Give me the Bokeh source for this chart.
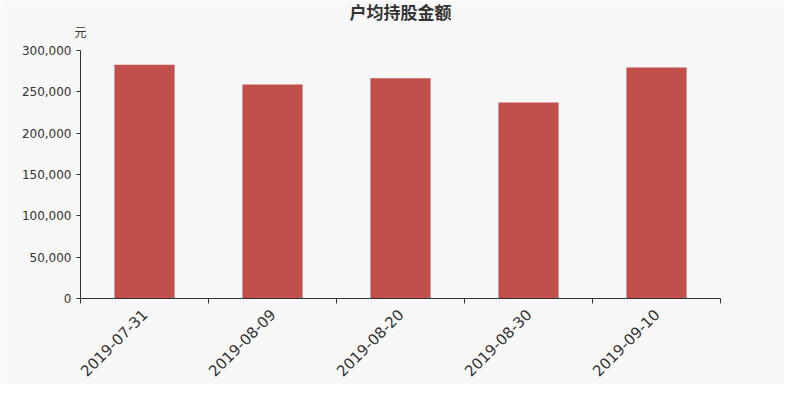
import math
from bokeh.plotting import figure
from bokeh.models import Range1d, FixedTicker, NumeralTickFormatter, LinearAxis, ColumnDataSource
from bokeh.embed import file_html
from bokeh.resources import INLINE

title_text = "户均持股金额"
unit_text = "元"
dates = ["2019-07-31", "2019-08-09", "2019-08-20", "2019-08-30", "2019-09-10"]
values = [282800, 259000, 266300, 237200, 279300]
y_ticks = [0, 50000, 100000, 150000, 200000, 250000, 300000]

BG = "#f8f8f8"
TXT = "#333333"
BAR = "#c1504d"
CJK = "DejaVu Sans, Noto Sans CJK SC"

centers = [i + 0.5 for i in range(len(dates))]
bounds = [float(i) for i in range(len(dates) + 1)]
src = ColumnDataSource(dict(x=centers, top=values, date=dates))

p = figure(width=784, height=384, output_backend="svg", toolbar_location=None,
           x_range=Range1d(0, len(dates)), y_range=Range1d(0, y_ticks[-1]),
           min_border_left=80, min_border_right=64, min_border_top=50, min_border_bottom=84)
p.background_fill_color = BG
p.border_fill_color = BG
p.outline_line_color = None
p.grid.visible = False

p.title.text = title_text
p.title.align = "center"
p.title.text_font = CJK
p.title.text_font_size = "17px"
p.title.text_font_style = "bold"
p.title.text_color = TXT
p.title.standoff = 0

xa = p.below[0]
ya = p.left[0]

unit_axis = LinearAxis(ticker=FixedTicker(ticks=[0], minor_ticks=[]),
                       major_label_overrides={0: unit_text})
unit_axis.axis_line_color = None
unit_axis.major_tick_line_color = None
unit_axis.minor_tick_line_color = None
unit_axis.major_tick_out = 0
unit_axis.major_tick_in = 0
unit_axis.minor_tick_out = 0
unit_axis.major_label_standoff = 11
unit_axis.major_label_text_font = CJK
unit_axis.major_label_text_font_size = "12px"
unit_axis.major_label_text_color = TXT
p.add_layout(unit_axis, "above")

p.vbar(x="x", top="top", width=0.47, source=src, fill_color=BAR, line_color=None)

xa.ticker = FixedTicker(ticks=centers, minor_ticks=bounds)
xa.major_label_overrides = {c: d for c, d in zip(centers, dates)}
xa.major_tick_out = 0
xa.major_tick_in = 0
xa.minor_tick_out = 5
xa.minor_tick_in = 0
xa.minor_tick_line_color = TXT
xa.axis_line_color = TXT
xa.major_label_orientation = math.pi / 4
xa.major_label_text_font = "DejaVu Sans"
xa.major_label_text_font_size = "15px"
xa.major_label_text_color = TXT
xa.major_label_standoff = 8

ya.ticker = FixedTicker(ticks=y_ticks, minor_ticks=[])
ya.formatter = NumeralTickFormatter(format="0,0")
ya.major_tick_out = 4
ya.major_tick_in = 0
ya.minor_tick_out = 0
ya.axis_line_color = TXT
ya.major_tick_line_color = TXT
ya.major_label_text_font = "DejaVu Sans"
ya.major_label_text_font_size = "12px"
ya.major_label_text_color = TXT
ya.major_label_standoff = 5

open("out.html", "w").write(file_html(p, INLINE))
